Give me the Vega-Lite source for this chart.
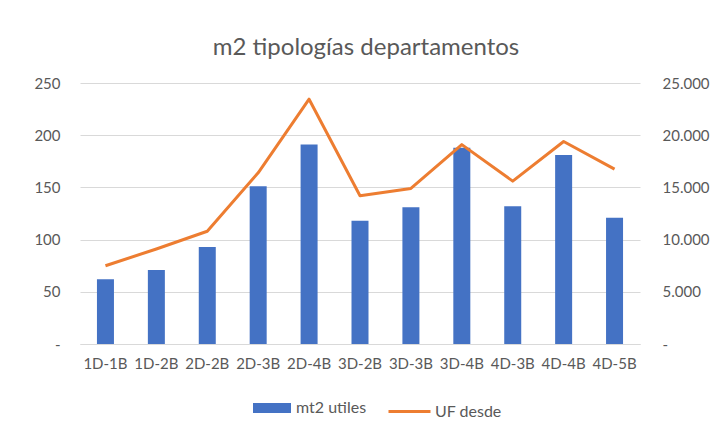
{
  "$schema": "https://vega.github.io/schema/vega-lite/v6.json",
  "width": 560,
  "height": 261,
  "autosize": "none",
  "padding": {"left": 80, "top": 83, "right": 71, "bottom": 87},
  "background": "white",
  "title": {
    "text": "m2 tipologías departamentos",
    "font": "Lato",
    "fontSize": 24,
    "fontWeight": "normal",
    "color": "#595959",
    "anchor": "middle",
    "offset": 16,
    "dx": 6
  },
  "config": {
    "view": {"stroke": null},
    "axis": {
      "labelFont": "Lato",
      "labelFontSize": 15,
      "labelColor": "#595959",
      "ticks": false,
      "title": null,
      "gridColor": "#d9d9d9",
      "gridWidth": 1
    }
  },
  "data": {
    "values": [
      {"tipo": "1D-1B", "m2": 62, "uf": 7500},
      {"tipo": "1D-2B", "m2": 71, "uf": 9100},
      {"tipo": "2D-2B", "m2": 93, "uf": 10800},
      {"tipo": "2D-3B", "m2": 151, "uf": 16400},
      {"tipo": "2D-4B", "m2": 191, "uf": 23450},
      {"tipo": "3D-2B", "m2": 118, "uf": 14200},
      {"tipo": "3D-3B", "m2": 131, "uf": 14900},
      {"tipo": "3D-4B", "m2": 188, "uf": 19100},
      {"tipo": "4D-3B", "m2": 132, "uf": 15600},
      {"tipo": "4D-4B", "m2": 181, "uf": 19400},
      {"tipo": "4D-5B", "m2": 121, "uf": 16750}
    ]
  },
  "encoding": {
    "x": {
      "field": "tipo",
      "type": "nominal",
      "sort": null,
      "scale": {"paddingInner": 0, "paddingOuter": 0},
      "axis": {
        "labelAngle": 0,
        "labelPadding": 12,
        "domainColor": "#d9d9d9",
        "domainWidth": 1,
        "grid": false
      }
    }
  },
  "layer": [
    {
      "mark": {"type": "bar", "size": 17, "color": "#4472C4"},
      "encoding": {
        "y": {
          "field": "m2",
          "type": "quantitative",
          "scale": {"domain": [0, 250], "nice": false},
          "axis": {
            "orient": "left",
            "values": [0, 50, 100, 150, 200, 250],
            "grid": true,
            "domain": false,
            "labelPadding": 20,
            "labelExpr": "datum.value === 0 ? '-' : datum.label"
          }
        },
        "fill": {
          "datum": "mt2 utiles",
          "type": "nominal",
          "scale": {"domain": ["mt2 utiles"], "range": ["#4472C4"]},
          "legend": {
            "orient": "none",
            "legendX": 173,
            "legendY": 306,
            "title": null,
            "padding": 0,
            "symbolType": "M-1,-0.263H1V0.263H-1Z",
            "symbolSize": 1444,
            "symbolStrokeWidth": 0,
            "symbolOpacity": 1,
            "labelFont": "Lato",
            "labelFontSize": 16,
            "labelColor": "#595959",
            "labelOffset": 5
          }
        }
      }
    },
    {
      "mark": {"type": "line", "strokeWidth": 3, "strokeJoin": "round", "color": "#ED7D31"},
      "encoding": {
        "y": {
          "field": "uf",
          "type": "quantitative",
          "scale": {"domain": [0, 25000], "nice": false},
          "axis": {
            "orient": "right",
            "values": [0, 5000, 10000, 15000, 20000, 25000],
            "grid": false,
            "domain": false,
            "labelPadding": 22,
            "format": ",.0f",
            "labelExpr": "datum.value === 0 ? '-' : replace(datum.label, ',', '.')"
          }
        },
        "stroke": {
          "datum": "UF desde",
          "type": "nominal",
          "scale": {"domain": ["UF desde"], "range": ["#ED7D31"]},
          "legend": {
            "orient": "none",
            "legendX": 307,
            "legendY": 306,
            "title": null,
            "padding": 0,
            "symbolType": "stroke",
            "symbolSize": 1764,
            "symbolStrokeWidth": 3,
            "labelFont": "Lato",
            "labelFontSize": 16,
            "labelColor": "#595959",
            "labelOffset": 3
          }
        }
      }
    }
  ],
  "resolve": {"scale": {"y": "independent"}}
}
